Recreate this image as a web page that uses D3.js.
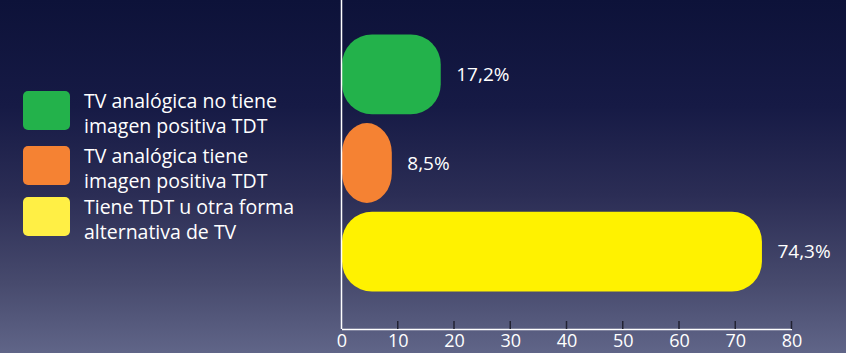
<!DOCTYPE html>
<html><head><meta charset="utf-8">
<script src="https://cdn.jsdelivr.net/npm/d3@7/dist/d3.min.js"></script>
<style>html,body{margin:0;padding:0;overflow:hidden;background:#1a1c44}</style>
</head><body>
<svg id="c" width="846" height="353"></svg>
<script>
const categories = ["TV analógica no tiene imagen positiva TDT", "TV analógica tiene imagen positiva TDT", "Tiene TDT u otra forma alternativa de TV"];
const legendLines = [["TV analógica no tiene", "imagen positiva TDT"], ["TV analógica tiene", "imagen positiva TDT"], ["Tiene TDT u otra forma", "alternativa de TV"]];
const values = [17.2, 8.5, 74.3];
const valueLabels = ["17,2%", "8,5%", "74,3%"];
const colors = ["#23b24b", "#f58233", "#fff200"];
const legendColors = ["#23b24b", "#f58233", "#ffef45"];
const ticks = [0, 10, 20, 30, 40, 50, 60, 70, 80];

const svg = d3.select("#c");
const W = 846, H = 353;
const defs = svg.append("defs");
const g = defs.append("linearGradient").attr("id", "bg").attr("x1", 0).attr("y1", 0).attr("x2", 0).attr("y2", 1);
[[0, "#0d1239"], [0.3, "#161a45"], [0.55, "#2b2d55"], [0.8, "#474a6d"], [1, "#606588"]].forEach(([o, c]) =>
  g.append("stop").attr("offset", o).attr("stop-color", c));
svg.append("rect").attr("width", W).attr("height", H).attr("fill", "url(#bg)");

const font = "'Open Sans', 'DejaVu Sans', sans-serif";
const x = d3.scaleLinear().domain([0, 80]).range([341.5, 791.5]);
const y = d3.scaleBand().domain(categories).range([30, 296]).paddingInner(0.1).paddingOuter(0.05);
const axisY = 329;

// bars
const bh = y.bandwidth();
categories.forEach((c, i) => {
  const x0 = x(0) + 0.5, w = x(values[i]) - x(0) + 2;
  const rx = Math.min(30, w / 2), ry = Math.min(30, bh / 2);
  svg.append("rect").attr("x", x0).attr("y", y(c)).attr("width", w).attr("height", bh)
    .attr("rx", rx).attr("ry", ry).attr("fill", colors[i]);
  svg.append("text").attr("x", x(values[i]) + 18).attr("y", y(c) + bh / 2)
    .attr("dy", "0.35em").attr("fill", "#ffffff").attr("font-family", font).attr("font-size", 19)
    .text(valueLabels[i]);
});

// axes
svg.append("line").attr("x1", x(0)).attr("x2", x(0)).attr("y1", 0).attr("y2", axisY)
  .attr("stroke", "#ffffff").attr("stroke-width", 1.5);
const ax = svg.append("g").attr("transform", `translate(0,${axisY})`)
  .call(d3.axisBottom(x).tickValues(ticks).tickSize(0).tickPadding(5).tickFormat(d3.format("d")));
ax.select(".domain").attr("stroke", "#ffffff").attr("stroke-width", 1.5);
ax.selectAll("text").attr("fill", "#ffffff").attr("font-family", font).attr("font-size", 18).attr("dy", "0.71em");
svg.append("g").selectAll("line").data(ticks.slice(1)).join("line")
  .attr("x1", d => x(d)).attr("x2", d => x(d)).attr("y1", axisY - 8).attr("y2", axisY)
  .attr("stroke", "#222233").attr("stroke-width", 1.5);

// legend
const legTop = [91, 146, 197];
legendLines.forEach((lines, i) => {
  svg.append("rect").attr("x", 23).attr("y", legTop[i]).attr("width", 47).attr("height", 39)
    .attr("rx", 5).attr("fill", legendColors[i]);
  const t = svg.append("text").attr("x", 84).attr("y", legTop[i] + 17)
    .attr("fill", "#ffffff").attr("font-family", font).attr("font-size", 19.5);
  lines.forEach((l, j) => t.append("tspan").attr("x", 84).attr("dy", j === 0 ? 0 : 25).text(l));
});
</script>
</body></html>
